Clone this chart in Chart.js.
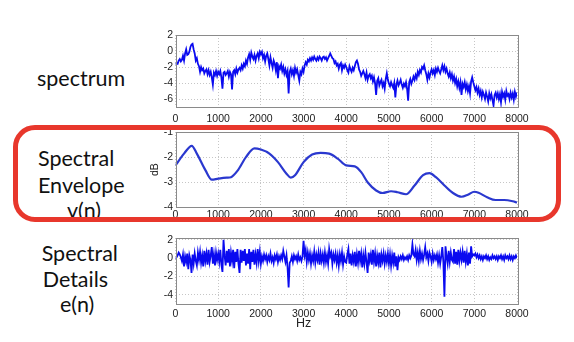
<!DOCTYPE html>
<html>
<head>
<meta charset="utf-8">
<script src="https://cdn.jsdelivr.net/npm/chart.js@4.4.0/dist/chart.umd.min.js"></script>
<style>
  html, body { margin: 0; padding: 0; background: #fff; }
  #stage { position: relative; width: 574px; height: 342px; overflow: hidden; background: #fff; }
  .panel { position: absolute; left: 135px; width: 410px; height: 105px; }
  .lbl { position: absolute; font-family: Lato, "Open Sans", sans-serif; font-size: 21.5px; line-height: 21.5px; color: #111; white-space: nowrap; }
  #hz { position: absolute; left: 296px; top: 316.5px; font-family: "Liberation Sans", Arial, sans-serif; font-size: 12.5px; line-height: 12.5px; color: #222; }
  #highlight { position: absolute; left: 12.5px; top: 125px; width: 548.5px; height: 97px; box-sizing: border-box;
               border: 5.5px solid #e8372c; border-radius: 22px; z-index: 5; }
</style>
</head>
<body>
<div id="stage">
  <div class="lbl" style="left:37px;top:67.6px;">spectrum</div>
  <div class="lbl" style="left:38px;top:147.6px;">Spectral</div>
  <div class="lbl" style="left:38px;top:174.9px;">Envelope</div>
  <div class="lbl" style="left:67px;top:200px;">v(n)</div>
  <div class="lbl" style="left:41.7px;top:242.6px;">Spectral</div>
  <div class="lbl" style="left:42.7px;top:268.6px;">Details</div>
  <div class="lbl" style="left:60px;top:293.9px;">e(n)</div>

  <div class="panel" style="top:25px;"><canvas id="specChart" width="410" height="105"></canvas></div>
  <div class="panel" style="top:122px;"><canvas id="envChart" width="410" height="105"></canvas></div>
  <div class="panel" style="top:228px;"><canvas id="detChart" width="410" height="105"></canvas></div>
  <div id="hz">Hz</div>
  <div id="highlight"></div>
</div>

<script>
// Frequency axis (Hz): tick labels and FFT bin centres (25 Hz spacing)
const hzTicks = [0, 1000, 2000, 3000, 4000, 5000, 6000, 7000, 8000];
const binHz = Array.from({ length: 321 }, (_, i) => i * 25);

// Log spectrum (dB), one value per bin; each row covers 500 Hz
const spectrumDb = [
  -1.7, -1.5, -1.6, -1.2, -1.0, -1.3, -1.1, -0.6, -1.2, -0.3,  0.2, -0.5, -0.4, -0.1,  0.5,  0.8,  0.9,  0.2, -0.3, -1.2,
  -0.9, -1.6, -1.9, -2.6, -2.0, -2.4, -2.2, -2.8, -2.5, -2.3, -2.9, -2.4, -3.0, -2.6, -3.3, -4.2, -2.7, -3.0, -2.5, -3.1,
  -2.6, -2.9, -2.5, -3.3, -4.7, -2.7, -2.6, -3.0, -2.8, -2.5, -3.2, -2.6, -2.9, -4.8, -2.6, -2.4, -2.9, -2.2, -2.7, -2.3,
  -2.1, -2.4, -1.8, -2.2, -1.6, -1.9, -1.2, -1.6, -0.8, -0.4, -1.1, -0.2, -0.7, -1.0, -0.5, -1.2, -0.6, -0.3, -0.9, -0.1,
  -0.4, -0.1, -0.9, -0.5, -1.3, -0.6, -0.3, -1.0, -1.8, -0.8, -1.5, -2.1, -1.2, -1.6, -2.4, -1.4, -3.4, -1.9, -2.2, -1.7,
  -2.5, -2.0, -2.8, -2.3, -3.0, -2.5, -5.3, -2.6, -2.2, -2.9, -2.4, -3.1, -2.1, -2.7, -2.3, -3.0, -3.7, -2.6, -2.9, -2.2,
  -2.6, -1.8, -1.4, -1.7, -1.1, -1.3, -0.9, -1.2, -0.8, -1.1, -0.7, -1.0, -1.2, -0.8, -1.1, -0.7, -0.9, -1.2, -0.8, -0.7,
  -1.0, -0.8, -1.2, -0.9, -0.6, -0.3, -0.6, -0.9, -1.0, -1.5, -1.3, -1.8, -1.6, -2.2, -1.7, -1.5, -2.4, -1.8, -2.1, -1.7,
  -2.0, -2.4, -2.7, -1.9, -2.3, -2.6, -2.1, -2.4, -1.9, -1.4, -1.2, -1.6, -2.3, -2.6, -3.1, -2.8, -2.5, -2.9, -3.4, -2.7,
  -3.6, -3.1, -2.9, -3.4, -3.1, -3.8, -3.3, -4.0, -5.5, -3.7, -3.4, -4.3, -3.9, -3.6, -4.4, -4.0, -4.7, -3.5, -2.8, -3.6,
  -4.1, -4.4, -3.9, -4.3, -4.6, -4.0, -5.8, -4.2, -3.7, -4.3, -4.0, -3.6, -4.2, -4.6, -4.1, -4.4, -3.9, -4.7, -6.2, -3.9,
  -3.5, -4.1, -3.7, -3.2, -3.6, -3.0, -3.4, -2.6, -3.0, -2.4, -2.7, -2.0, -2.2, -1.8, -2.4, -2.9, -3.6, -2.8, -3.3, -2.7,
  -2.3, -2.8, -2.4, -3.0, -2.2, -2.6, -2.1, -2.5, -2.8, -2.3, -1.8, -2.4, -1.9, -2.6, -2.2, -2.8, -3.2, -2.7, -3.4, -2.9,
  -3.7, -3.2, -4.0, -3.5, -4.4, -3.8, -4.6, -3.9, -5.5, -4.1, -4.5, -3.9, -4.8, -4.2, -5.0, -4.4, -5.3, -3.8, -3.3, -3.9,
  -4.4, -4.9, -4.5, -5.2, -4.7, -5.5, -5.0, -5.8, -5.1, -5.5, -6.0, -5.2, -5.7, -6.3, -5.3, -5.9, -5.4, -6.1, -6.8, -5.5,
  -5.2, -5.8, -5.3, -6.0, -5.4, -6.4, -5.1, -5.7, -5.3, -6.1, -5.0, -5.6, -5.4, -6.0, -5.2, -5.8, -5.3, -6.1, -5.1, -5.7,
  -5.2
];

// Smooth spectral envelope v(n), sampled at its turning points (dB)
const envelopeHz = [0, 200, 380, 500, 700, 850, 1000, 1200, 1300, 1450, 1650, 1850, 2000, 2200, 2400,
  2600, 2700, 2800, 3000, 3200, 3400, 3600, 3800, 4000, 4200, 4350, 4500, 4700, 4850, 5050,
  5200, 5400, 5600, 5800, 5950, 6100, 6300, 6500, 6700, 6850, 7000, 7100, 7300, 7500, 7700, 7900, 8000];
const envelopeDb = [-2.33, -1.86, -1.55, -1.86, -2.52, -2.9, -2.86, -2.82, -2.8, -2.55, -2.0, -1.65, -1.7, -1.86, -2.2,
  -2.66, -2.82, -2.72, -2.2, -1.9, -1.83, -1.86, -2.06, -2.33, -2.37, -2.6, -3.0, -3.33, -3.43, -3.36,
  -3.4, -3.48, -3.13, -2.72, -2.64, -2.8, -3.13, -3.43, -3.58, -3.5, -3.38, -3.42, -3.6, -3.71, -3.71, -3.76, -3.81];

// Spectral details e(n), one value per bin; each row covers 500 Hz
const detailsDb = [
  -0.1,  0.1,  0.3,  0.6,  0.4,  0.1, -0.3,  0.4, -0.9,  0.2, -0.4,  0.5, -1.2,  0.3, -0.2, -1.6,  0.4, -0.6,  0.5, -0.3,
  -0.8,  0.6, -0.2,  0.7, -0.5,  0.3, -0.9,  0.8, -0.3,  0.5, -0.7,  0.9, -0.4,  0.3,  1.2, -0.6,  0.4, -0.8,  0.6, -0.2,
   0.5, -0.4,  0.9, -0.7, -1.5,  2.0,  0.3, -0.8,  0.8, -0.5,  1.0, -0.9,  0.6, -0.3,  0.9, -1.1,  0.7, -0.4,  1.0, -0.6,
  -1.6,  0.9, -0.5,  0.8, -0.3,  1.0, -0.8,  0.5, -0.6,  1.0, -1.2,  0.7, -0.4,  0.9, -0.7,  0.4, -0.5,  1.0, -0.3,  0.7,
  -0.6,  0.2, -0.3,  0.4, -0.1,  0.3, -0.4,  0.2, -0.2,  0.5, -0.3,  0.1, -0.5,  0.3, -0.1,  0.4, -0.4,  0.2, -0.2,  0.3,
  -0.1,  0.8,  0.2, -0.4,  0.3, -1.0, -3.2, -0.5, -0.3,  0.2, -0.4,  0.3, -0.1,  0.2, -0.3,  0.4, -0.2,  0.1, -0.3,  0.2,
   1.9,  0.3,  0.9, -0.4,  0.6, -0.2,  0.5, -0.6,  0.3, -0.3,  0.7, -0.5,  0.4, -0.2,  0.6, -0.7,  0.5, -0.3,  0.4, -0.5,
   0.6, -0.4,  0.3, -0.6,  1.0,  0.2,  0.6, -0.6,  0.4, -0.2,  0.5, -0.5,  0.3, -0.8,  0.4, -0.3,  0.6, -0.7,  0.2, -0.4,
  -0.5,  0.4,  1.0, -0.6,  0.5, -0.8,  0.3, -0.4,  0.7, -0.9,  0.4, -0.5,  0.8, -0.3,  0.5, -1.0,  0.3, -0.6,  0.6, -0.4,
  -1.6,  0.6, -0.3,  0.4, -0.7,  0.9, -0.4,  0.5, -0.9,  0.3, -0.5,  0.6, -1.0,  0.4, -0.3,  0.5, -0.6,  0.3, -0.4,  0.5,
  -0.6,  0.4, -0.8,  0.3, -0.5,  0.6, -0.9,  0.2, -1.3,  0.1, -0.2,  0.2, -0.1,  0.3, -0.2,  0.1, -0.1,  0.2, -0.2,  0.3,
   0.0,  0.3,  1.5,  0.4,  0.2,  0.9, -0.2,  0.6, -0.3,  0.8, -0.1,  0.5, -0.2,  0.4,  1.2,  0.1,  0.5, -0.3,  0.6,  0.2,
  -0.4,  0.5, -0.2,  0.3, -0.1,  0.4, -0.5,  0.3, -0.6,  0.2,  1.2, -0.4, -4.2,  1.3,  0.2, -0.6,  0.8, -0.4,  0.6, -0.2,
  -0.4,  1.0, -0.6,  0.7, -0.7,  0.9, -0.3,  0.6, -0.2,  0.7, -0.5,  0.8, -0.4,  0.5, -0.8,  0.6, -0.6,  1.3,  0.2,  0.4,
   0.3,  0.5,  0.1,  0.4,  0.0,  0.3, -0.1,  0.2, -0.2,  0.2,  0.0,  0.3, -0.1,  0.2, -0.2,  0.1, -0.1,  0.3,  0.0,  0.2,
  -0.1,  0.2, -0.2,  0.2,  0.0,  0.3, -0.1,  0.2, -0.2,  0.3,  0.0,  0.2, -0.1,  0.3, -0.1,  0.2, -0.2,  0.2,  0.0,  0.3,
   0.0
];

// y-axis tick labels per panel
const spectrumTicks = [-6, -4, -2, 0, 2];
const envelopeTicks = [-4, -3, -2, -1];
const detailsTicks = [-4, -2, 0, 2];

const toPoints = (xs, ys) => ys.map((y, i) => ({ x: xs[i], y }));

// Solid box around the plotting area
const framePlugin = {
  id: 'frame',
  afterDraw(chart) {
    const { ctx, chartArea: a } = chart;
    ctx.save();
    ctx.strokeStyle = '#8a8a8a';
    ctx.lineWidth = 1;
    ctx.strokeRect(Math.round(a.left) + 0.5, Math.round(a.top) + 0.5,
                   Math.round(a.right - a.left), Math.round(a.bottom - a.top));
    ctx.restore();
  }
};

const tickFont = { family: '"Liberation Sans", Arial, sans-serif', size: 10.5 };

function buildPanel(id, dataset, cfg) {
  return new Chart(document.getElementById(id), {
    type: 'line',
    data: { datasets: [dataset] },
    plugins: [framePlugin],
    options: {
      responsive: false,
      animation: false,
      events: [],
      layout: { autoPadding: false, padding: { left: 0, top: 10, right: 28, bottom: 0 } },
      plugins: { legend: { display: false }, tooltip: { enabled: false } },
      elements: { point: { radius: 0 } },
      scales: {
        x: {
          type: 'linear', min: 0, max: 8000,
          afterBuildTicks: s => { s.ticks = hzTicks.map(v => ({ value: v })); },
          afterFit: s => { s.height = cfg.xHeight; },
          ticks: { font: tickFont, color: '#222', padding: cfg.xPad, maxRotation: 0, autoSkip: false,
                   callback: v => String(v) },
          grid: { color: '#c6c6c6', lineWidth: 1, drawTicks: false },
          border: { display: false, dash: [1, 2] }
        },
        y: {
          type: 'linear', min: cfg.yMin, max: cfg.yMax,
          afterBuildTicks: s => { s.ticks = cfg.yTicks.map(v => ({ value: v })); },
          afterFit: s => { s.width = 40.5; },
          ticks: { font: tickFont, color: '#222', padding: 2.5, callback: v => String(v) },
          grid: { color: '#c6c6c6', lineWidth: 1, drawTicks: false },
          border: { display: false, dash: [1, 2] },
          title: cfg.yTitle ? { display: true, text: cfg.yTitle, color: '#222', font: tickFont, padding: { top: 13.4, bottom: 0 } } : { display: false }
        }
      }
    }
  });
}

buildPanel('specChart', {
  data: toPoints(binHz, spectrumDb),
  borderColor: '#0a0af0', borderWidth: 1.8, tension: 0
}, { yMin: -7, yMax: 2, yTicks: spectrumTicks, xHeight: 23, xPad: 6 });

buildPanel('envChart', {
  data: toPoints(envelopeHz, envelopeDb),
  borderColor: '#2a38cf', borderWidth: 2.2, tension: 0.4, cubicInterpolationMode: 'monotone'
}, { yMin: -4, yMax: -1, yTicks: envelopeTicks, xHeight: 19.7, xPad: 2, yTitle: 'dB' });

buildPanel('detChart', {
  data: toPoints(binHz, detailsDb),
  borderColor: '#0a0af0', borderWidth: 1.8, tension: 0
}, { yMin: -5, yMax: 2.2, yTicks: detailsTicks, xHeight: 29, xPad: 3.5 });
</script>
</body>
</html>
